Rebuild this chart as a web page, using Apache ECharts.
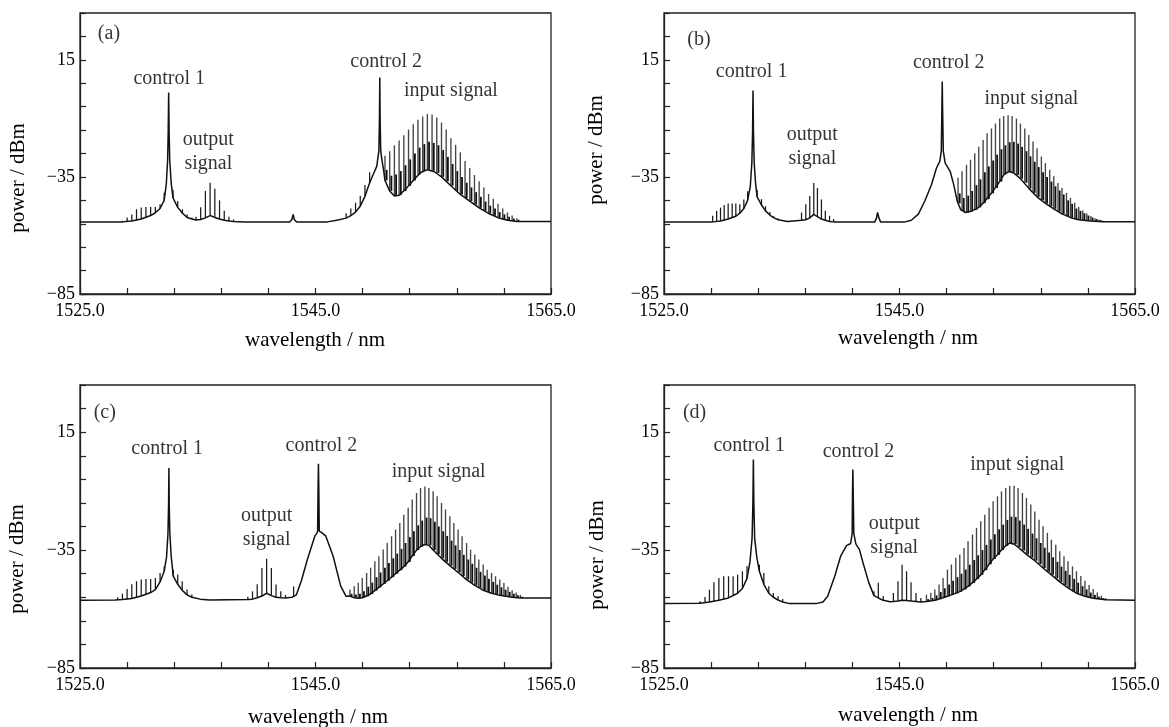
<!DOCTYPE html>
<html>
<head>
<meta charset="utf-8">
<script src="https://cdn.jsdelivr.net/npm/echarts@6/dist/echarts.min.js"></script>
<style>
html,body{margin:0;padding:0;background:#fff;}
#chart{width:1169px;height:727px;}
</style>
</head>
<body>
<div id="chart"></div>
<script>
// ---------- axis ticks / labels ----------
var xTicks = [1525, 1529, 1533, 1537, 1541, 1545, 1549, 1553, 1557, 1561, 1565];
var xLabels = [1525, 1545, 1565];
var yTicks = [-85, -75, -65, -55, -45, -35, -25, -15, -5, 5, 15, 25, 35];
var yLabels = [-85, -35, 15];

// ---------- panel (a) ----------
var floorA = [[1525,-54.2],[1527,-54.3],[1528.6,-54.2],[1529.4,-53.8],[1530.2,-53],[1531.0,-51.5],[1531.4,-50.3],[1531.8,-48.5],[1532.15,-45],[1532.33,-38],[1532.44,-28],[1532.49,-16.4],[1532.53,1],[1532.57,-16.4],[1532.62,-28],[1532.75,-38],[1532.9,-44],[1533.3,-48],[1533.7,-50.5],[1534.1,-52.3],[1534.5,-53],[1534.85,-53.4],[1535.25,-53.2],[1535.65,-52.5],[1536.05,-51.5],[1536.45,-52.3],[1536.85,-53],[1537.25,-53.5],[1537.65,-53.8],[1538.05,-54],[1539,-54.3],[1542.8,-54.3],[1543.0,-53.2],[1543.1,-51],[1543.2,-53.2],[1543.4,-54.3],[1546,-54.2],[1546.8,-53.5],[1547.6,-52.6],[1548.0,-51.5],[1548.4,-50],[1548.8,-47.5],[1549.2,-43.3],[1549.6,-37.5],[1549.9,-34],[1550.2,-30.5],[1550.38,-24],[1550.43,-10.8],[1550.46,7.5],[1550.49,-10.8],[1550.54,-24],[1550.65,-28],[1550.78,-32],[1550.9,-36.5],[1551.3,-41],[1551.7,-43.2],[1552.1,-42.8],[1552.7,-40],[1553.3,-36.5],[1553.9,-33.2],[1554.5,-31.9],[1555.1,-32.8],[1555.7,-35],[1556.5,-38.8],[1557.3,-42.5],[1558.1,-45.3],[1558.9,-48.2],[1559.7,-50.6],[1560.5,-52.4],[1561.3,-53.5],[1562.1,-54],[1565,-54]];
// single comb lines: [wavelength, floor, top]
var linesA = [[1528.6,-54.2,-53.7],[1529.0,-54.1,-52.3],[1529.4,-53.8,-51],[1529.8,-53.5,-48.8],[1530.2,-53,-48.1],[1530.6,-52.4,-47.8],[1531.0,-51.5,-47.8],[1531.4,-50.3,-47.8],[1531.8,-48.5,-46.7],[1532.15,-45,-41.8],
  [1532.9,-44,-40.5],[1533.3,-48,-45.3],[1533.7,-50.5,-48.8],[1534.1,-52.3,-51],[1534.5,-53,-52.3],
  [1534.85,-53.4,-52],[1535.25,-53.2,-48],[1535.65,-52.5,-41],[1536.05,-51.5,-37.5],[1536.45,-52.3,-40],[1536.85,-53,-45],[1537.25,-53.5,-49.5],[1537.65,-53.8,-52],[1538.05,-54,-53.2],
  [1547.6,-52.6,-50.5],[1548.0,-51.5,-48.5],[1548.4,-50,-46],[1548.8,-47.5,-43],[1549.2,-43.3,-38.5],[1549.6,-37.5,-33]];
// input-signal comb: [wavelength, floor, mid, top]
var inputA = [[1550.9,-36.5,-32.0,-26.0],[1551.3,-41.0,-34.5,-24.0],[1551.7,-43.2,-34.0,-21.5],[1552.1,-42.8,-32.5,-19.5],[1552.5,-41.0,-30.0,-17.2],[1552.9,-38.8,-27.5,-14.8],[1553.3,-36.5,-25.0,-12.5],[1553.7,-34.0,-22.5,-10.6],[1554.1,-32.5,-21.0,-9.2],[1554.5,-31.9,-20.0,-8.1],[1554.9,-32.4,-20.5,-8.3],[1555.3,-33.3,-21.5,-9.6],[1555.7,-35.0,-23.5,-11.8],[1556.1,-36.8,-26.5,-14.8],[1556.5,-38.8,-29.5,-18.5],[1556.9,-41.0,-32.5,-21.3],[1557.3,-42.5,-35.0,-24.5],[1557.7,-44.0,-37.5,-28.2],[1558.1,-45.3,-39.5,-31.2],[1558.5,-46.8,-41.5,-34.2],[1558.9,-48.2,-43.5,-36.8],[1559.3,-49.5,-45.5,-39.5],[1559.7,-50.6,-47.3,-42.3],[1560.1,-51.6,-48.5,-44.3],[1560.5,-52.4,-50.0,-46.5],[1560.9,-53.0,-51.0,-48.5],[1561.3,-53.5,-52.0,-50.2],[1561.7,-53.8,-52.8,-51.5],[1562.1,-54.0,-53.3,-52.6]];
var notesA = [['control 1',1532.58,7.1],['output\nsignal',1535.9,-24.1],['control 2',1551.0,14.2],['input signal',1556.5,1.8],['(a)',1527.46,26.3]];

// ---------- panel (b) ----------
var floorB = [[1525,-54.2],[1528,-54.3],[1529.13,-54.2],[1529.8,-53.8],[1530.45,-53],[1531.1,-51.8],[1531.44,-50.5],[1531.78,-48.5],[1532.1,-45],[1532.33,-39],[1532.46,-29],[1532.52,-16.4],[1532.56,1.9],[1532.6,-16.4],[1532.66,-29],[1532.78,-38],[1532.91,-43.5],[1533.28,-47],[1533.62,-49.5],[1533.99,-51.3],[1534.33,-52.5],[1534.7,-53.3],[1535.5,-54],[1536.68,-53.5],[1537.04,-53.3],[1537.38,-52.5],[1537.72,-51],[1538.03,-52],[1538.37,-53],[1538.7,-53.5],[1539.06,-54],[1539.4,-54.2],[1542.9,-54.3],[1543.05,-52.5],[1543.14,-50.2],[1543.25,-52.5],[1543.4,-54.3],[1545.4,-54.3],[1546.0,-53.5],[1546.6,-50.9],[1547.15,-45.3],[1547.72,-38.2],[1548.14,-31.2],[1548.42,-28.4],[1548.55,-24],[1548.6,-5.6],[1548.63,5.7],[1548.66,-5.6],[1548.72,-24],[1548.88,-29.1],[1549.3,-32.6],[1549.6,-38.2],[1549.9,-45.3],[1550.2,-49],[1550.6,-50.2],[1551.0,-49.8],[1551.6,-48.5],[1552.1,-46.2],[1552.8,-42],[1553.5,-37],[1553.9,-33.8],[1554.3,-32.7],[1554.7,-33.3],[1555.3,-35.9],[1556.0,-40],[1556.7,-43.6],[1557.4,-46.3],[1558.1,-48.6],[1558.8,-50.8],[1559.5,-52.3],[1560.2,-53.3],[1561.2,-53.8],[1562.3,-54.1],[1565,-54.1]];
var linesB = [[1529.13,-54.2,-51.6],[1529.47,-54,-49.5],[1529.8,-53.8,-48.1],[1530.11,-53.5,-47],[1530.45,-53,-46.4],[1530.79,-52.5,-46.4],[1531.1,-51.8,-46.4],[1531.44,-50.5,-46.7],[1531.78,-48.5,-44.6],[1532.1,-45,-41.1],
  [1532.91,-43.5,-40.5],[1533.28,-47,-44.5],[1533.62,-49.5,-47.5],[1533.99,-51.3,-50],[1534.33,-52.5,-51.8],[1534.7,-53.3,-52.8],
  [1536.68,-53.5,-50.2],[1537.04,-53.3,-46.7],[1537.38,-52.5,-43.2],[1537.72,-51,-37.6],[1538.03,-52,-39.7],[1538.37,-53,-44.6],[1538.7,-53.5,-49.5],[1539.06,-54,-51.6],[1539.4,-54.2,-53]];
var inputB = [[1549.97,-46.3,-42.0,-35.4],[1550.31,-49.6,-44.0,-32.6],[1550.69,-50.2,-43.0,-29.8],[1551.03,-49.8,-41.0,-27.7],[1551.39,-49.0,-38.5,-24.9],[1551.73,-48.0,-36.0,-22.1],[1552.10,-46.2,-33.0,-19.2],[1552.44,-44.5,-30.5,-16.4],[1552.81,-42.0,-28.0,-14.3],[1553.15,-39.7,-25.5,-12.2],[1553.51,-37.0,-23.2,-10.1],[1553.85,-34.0,-21.5,-9.0],[1554.22,-32.8,-20.2,-8.7],[1554.56,-33.0,-20.0,-9.0],[1554.93,-34.2,-20.8,-10.1],[1555.27,-35.8,-22.2,-12.2],[1555.64,-37.5,-24.0,-14.3],[1555.98,-40.0,-26.2,-17.1],[1556.34,-41.8,-28.5,-19.9],[1556.68,-43.5,-30.8,-22.8],[1557.05,-45.0,-33.0,-26.3],[1557.39,-46.3,-35.0,-29.1],[1557.76,-47.6,-37.0,-31.9],[1558.10,-48.6,-39.0,-34.7],[1558.46,-49.8,-40.8,-37.6],[1558.80,-50.8,-42.5,-39.7],[1559.18,-51.7,-45.0,-41.8],[1559.52,-52.3,-46.5,-43.9],[1559.88,-53.0,-48.5,-46.0],[1560.22,-53.3,-49.5,-47.8],[1560.56,-53.5,-50.5,-49.3],[1560.90,-53.7,-51.5,-50.6],[1561.25,-53.8,-52.3,-51.7],[1561.60,-53.9,-53.0,-52.6],[1561.95,-54.0,-53.5,-53.2],[1562.30,-54.1,-53.9,-53.7]];
var notesB = [['control 1',1532.44,9.9],['output\nsignal',1537.6,-22.3],['control 2',1549.18,13.8],['input signal',1556.2,-1.7],['(b)',1527.97,23.7]];

// ---------- panel (c) ----------
var floorC = [[1525,-56.3],[1528,-56.2],[1528.6,-56],[1529.4,-55.5],[1530.2,-54.5],[1531.0,-53],[1531.4,-51.8],[1531.8,-48.5],[1532.15,-44],[1532.35,-38],[1532.47,-28],[1532.52,-16.4],[1532.55,-0.2],[1532.58,-16.4],[1532.63,-28],[1532.75,-38],[1532.92,-46],[1533.3,-49.5],[1533.68,-52],[1534.09,-54],[1534.5,-55],[1535.2,-55.8],[1536,-56.2],[1539.25,-56],[1539.65,-55.8],[1540.05,-55.2],[1540.45,-54.5],[1540.85,-53.3],[1541.25,-54.3],[1541.65,-55],[1542.05,-55.2],[1542.45,-55.3],[1543.0,-55],[1543.37,-54],[1543.8,-48],[1544.31,-39],[1544.94,-29.1],[1545.1,-28],[1545.18,-27],[1545.22,-8],[1545.25,1.6],[1545.28,-8],[1545.32,-27],[1545.5,-27.5],[1545.88,-29.1],[1546.5,-37.6],[1547.14,-50.3],[1547.6,-54.6],[1547.92,-54.5],[1548.29,-55.2],[1548.63,-55.4],[1549.0,-55.2],[1549.68,-53.6],[1550.38,-50.8],[1551.09,-48],[1551.8,-45],[1552.5,-42],[1552.87,-40],[1553.21,-37.5],[1553.58,-35],[1553.92,-33.5],[1554.29,-32.6],[1554.63,-33],[1554.99,-35],[1555.7,-38.5],[1556.41,-41.6],[1557.11,-44.5],[1557.83,-47.5],[1558.53,-50],[1559.24,-52],[1559.95,-53.3],[1560.65,-54.2],[1561.7,-55],[1562.4,-55.3],[1565,-55.3]];
var linesC = [[1528.2,-56.2,-55],[1528.6,-56,-53.5],[1529.0,-55.8,-51.5],[1529.4,-55.5,-49.5],[1529.8,-55,-48.2],[1530.2,-54.5,-47.5],[1530.6,-53.8,-47.3],[1531.0,-53,-47.3],[1531.4,-51.8,-46.8],[1531.8,-48.5,-44.7],[1532.15,-44,-42],
  [1532.92,-46,-43.3],[1533.3,-49.5,-45.4],[1533.68,-52,-48.2],[1534.09,-54,-51.7],[1534.5,-55,-53.8],
  [1539.25,-56,-54.8],[1539.65,-55.8,-52.5],[1540.05,-55.2,-49.5],[1540.45,-54.5,-42.6],[1540.85,-53.3,-38.7],[1541.25,-54.3,-42.6],[1541.65,-55,-49.6],[1542.05,-55.2,-52.5],[1542.45,-55.3,-54],[1543.14,-54.6,-50.4]];
var inputC = [[1547.92,-54.5,-53.5,-51.7],[1548.29,-55.2,-53.8,-50.3],[1548.63,-55.4,-53.5,-48.9],[1548.97,-55.2,-52.5,-46.8],[1549.34,-54.6,-50.5,-44.7],[1549.68,-53.6,-48.8,-42.5],[1550.04,-52.2,-46.5,-39.7],[1550.38,-50.8,-44.5,-37.6],[1550.75,-49.3,-42.5,-34.8],[1551.09,-48.0,-40.5,-32.0],[1551.46,-46.5,-38.5,-29.1],[1551.80,-45.0,-36.5,-26.3],[1552.16,-43.5,-34.5,-23.5],[1552.50,-42.0,-32.0,-20.0],[1552.87,-40.0,-29.5,-17.1],[1553.21,-37.5,-27.0,-13.6],[1553.58,-35.0,-24.5,-10.8],[1553.92,-33.5,-22.5,-8.7],[1554.29,-32.6,-21.2,-8.0],[1554.63,-33.0,-21.5,-8.7],[1554.99,-35.0,-23.0,-10.1],[1555.33,-36.8,-25.0,-12.2],[1555.70,-38.5,-27.0,-15.0],[1556.04,-40.0,-29.0,-17.8],[1556.41,-41.6,-31.0,-20.7],[1556.75,-43.0,-33.0,-23.5],[1557.11,-44.5,-35.0,-26.3],[1557.45,-46.0,-37.0,-29.1],[1557.83,-47.5,-39.0,-32.0],[1558.17,-48.8,-40.8,-34.8],[1558.53,-50.0,-42.5,-36.9],[1558.87,-51.0,-44.2,-39.0],[1559.24,-52.0,-45.8,-41.1],[1559.58,-52.8,-47.2,-43.3],[1559.95,-53.3,-48.5,-44.7],[1560.29,-53.8,-49.7,-46.1],[1560.65,-54.2,-50.8,-47.5],[1561.00,-54.5,-51.8,-49.0],[1561.35,-54.8,-52.7,-50.5],[1561.70,-55.0,-53.5,-52.0],[1562.05,-55.2,-54.2,-53.0],[1562.40,-55.3,-54.8,-54.0]];
var notesC = [['control 1',1532.4,7.9],['output\nsignal',1540.85,-25.4],['control 2',1545.5,9.3],['input signal',1555.46,-1.6],['(c)',1527.1,23.1]];

// ---------- panel (d) ----------
var floorD = [[1525,-57.6],[1528.06,-57.5],[1528.86,-57],[1529.66,-56.3],[1530.48,-55.3],[1531.25,-53.3],[1531.66,-51.3],[1532.05,-47],[1532.3,-40],[1532.48,-30],[1532.55,-15],[1532.59,3.4],[1532.63,-15],[1532.7,-30],[1532.88,-38],[1533.1,-44],[1533.48,-49.5],[1533.9,-53.3],[1534.28,-55],[1534.69,-56.2],[1535.08,-57],[1535.6,-57.6],[1538.0,-57.6],[1538.5,-57],[1538.9,-54.6],[1539.5,-46.1],[1540.0,-37.6],[1540.5,-33.1],[1540.85,-32.2],[1540.98,-28],[1541.01,-10.7],[1541.04,-0.8],[1541.07,-10.7],[1541.12,-28],[1541.3,-32.5],[1541.6,-34.8],[1541.9,-40.4],[1542.4,-48.9],[1542.83,-54.3],[1543.2,-55.3],[1543.62,-56.3],[1544.2,-56.9],[1544.48,-56.8],[1544.87,-56.6],[1545.22,-56.3],[1545.6,-56.4],[1545.98,-56.6],[1546.4,-56.8],[1546.81,-57],[1547.29,-56.8],[1548.0,-56.3],[1548.7,-55.2],[1549.41,-54],[1550.12,-52.6],[1550.82,-50.4],[1551.54,-47.3],[1551.9,-45.5],[1552.61,-41],[1552.95,-38.8],[1553.32,-37],[1553.66,-35],[1554.02,-33.2],[1554.36,-32],[1554.73,-32.5],[1555.07,-33.8],[1555.78,-36.8],[1556.49,-39.5],[1557.19,-42.6],[1557.9,-45.5],[1558.61,-48.5],[1559.31,-51],[1560.03,-53.3],[1560.75,-54.6],[1561.45,-55.4],[1562.5,-56.1],[1565,-56.3]];
var linesD = [[1528.06,-57.5,-56.7],[1528.48,-57.3,-54.9],[1528.86,-57,-51.8],[1529.24,-56.8,-48.6],[1529.66,-56.3,-46.8],[1530.07,-55.8,-46.1],[1530.48,-55.3,-46.1],[1530.87,-54.5,-46.1],[1531.25,-53.3,-45.4],[1531.66,-51.3,-44],[1532.05,-47,-41.9],
  [1533.1,-44,-41.2],[1533.48,-49.5,-44.7],[1533.9,-53.3,-50.3],[1534.28,-55,-53.2],[1534.69,-56.2,-54.6],[1535.08,-57,-55.7],
  [1542.83,-54.3,-52.5],[1543.2,-55.3,-48.9],[1543.62,-56.3,-54.5],
  [1544.48,-56.8,-53.2],[1544.87,-56.6,-48.2],[1545.22,-56.3,-41.2],[1545.6,-56.4,-44],[1545.98,-56.6,-48.6],[1546.4,-56.8,-53.2],[1546.81,-57,-55.3]];
var inputD = [[1547.29,-56.8,-55.8,-53.9],[1547.66,-56.6,-55.3,-53.1],[1548.00,-56.3,-54.2,-51.7],[1548.36,-55.8,-52.8,-49.6],[1548.70,-55.2,-51.2,-46.8],[1549.07,-54.6,-49.6,-43.3],[1549.41,-54.0,-48.0,-41.1],[1549.78,-53.4,-46.5,-38.3],[1550.12,-52.6,-45.0,-36.9],[1550.48,-51.7,-43.2,-34.1],[1550.82,-50.4,-41.2,-31.3],[1551.20,-49.0,-39.2,-28.4],[1551.54,-47.3,-37.2,-25.6],[1551.90,-45.5,-35.0,-22.8],[1552.24,-43.5,-32.8,-20.0],[1552.61,-41.0,-30.5,-17.1],[1552.95,-38.8,-28.3,-14.3],[1553.32,-37.0,-26.2,-12.2],[1553.66,-35.0,-24.2,-10.1],[1554.02,-33.2,-22.2,-8.7],[1554.36,-32.0,-20.8,-7.7],[1554.73,-32.5,-21.0,-7.7],[1555.07,-33.8,-22.5,-8.7],[1555.44,-35.2,-24.2,-10.8],[1555.78,-36.8,-26.0,-12.9],[1556.15,-38.2,-28.0,-15.7],[1556.49,-39.5,-30.0,-18.6],[1556.85,-41.0,-32.0,-22.1],[1557.19,-42.6,-34.0,-24.9],[1557.56,-44.2,-36.0,-27.7],[1557.90,-45.5,-38.0,-30.6],[1558.27,-47.0,-40.0,-32.7],[1558.61,-48.5,-42.0,-35.5],[1558.97,-49.8,-43.8,-37.6],[1559.31,-51.0,-45.5,-39.7],[1559.69,-52.5,-47.2,-41.9],[1560.03,-53.3,-48.8,-44.0],[1560.40,-54.0,-50.3,-46.0],[1560.75,-54.6,-51.7,-48.0],[1561.10,-55.0,-53.0,-49.8],[1561.45,-55.4,-54.0,-51.5],[1561.80,-55.7,-54.8,-53.0],[1562.15,-55.9,-55.4,-54.3],[1562.50,-56.1,-55.8,-55.3]];
var notesD = [['control 1',1532.24,9.3],['control 2',1541.52,6.9],['output\nsignal',1544.55,-28.8],['input signal',1555.0,1.2],['(d)',1527.6,23.1]];

// ---------- layout (pixels) ----------
var FONT = "'Liberation Serif', 'Times New Roman', serif";
var grids = [
  {left: 80, top: 13, width: 471, height: 281},
  {left: 664, top: 13, width: 471, height: 281},
  {left: 80, top: 385, width: 471, height: 283},
  {left: 664, top: 385, width: 471, height: 283}
];
var yTitlePos = [[18, 178], [596, 150], [17, 559], [597, 555]];
var xTitlePos = [[315, 340], [908, 338], [318, 717], [908, 715]];

var floors = [floorA, floorB, floorC, floorD];
var singles = [linesA, linesB, linesC, linesD];
var inputs = [inputA, inputB, inputC, inputD];
var notes = [notesA, notesB, notesC, notesD];

function renderSingle(params, api) {
  var w = api.value(0), lo = api.value(1), hi = api.value(2);
  var a = api.coord([w, lo]), b = api.coord([w, hi]);
  return {type: 'line', shape: {x1: a[0], y1: a[1], x2: b[0], y2: b[1]},
    style: {stroke: '#1a1a1a', lineWidth: 1.25}};
}
function renderInput(params, api) {
  var w = api.value(0), lo = api.value(1), mid = api.value(2), hi = api.value(3);
  var a = api.coord([w, lo]), b = api.coord([w, hi]), m = api.coord([w, mid]);
  return {type: 'group', children: [
    {type: 'line', shape: {x1: a[0], y1: a[1], x2: b[0], y2: b[1]}, style: {stroke: '#444', lineWidth: 1.35}},
    {type: 'line', shape: {x1: a[0] + 1.7, y1: a[1], x2: m[0] + 1.7, y2: m[1]}, style: {stroke: '#0d0d0d', lineWidth: 1.8}}
  ]};
}

var option = {
  animation: false,
  backgroundColor: '#fff',
  grid: grids.map(function (g) {
    return {left: g.left, top: g.top, width: g.width, height: g.height, show: true,
      borderColor: '#222', borderWidth: 1.3, backgroundColor: 'transparent', containLabel: false};
  }),
  xAxis: grids.map(function (g, i) {
    return {
      gridIndex: i, type: 'value', min: 1525, max: 1565, position: 'bottom',
      axisLine: {show: true, onZero: false, lineStyle: {color: '#222', width: 1.3}},
      axisTick: {show: true, inside: true, length: 6, customValues: xTicks, lineStyle: {color: '#222', width: 1.2}},
      axisLabel: {show: true, customValues: xLabels, margin: 8, fontSize: 18, color: '#000', fontFamily: FONT,
        formatter: function (v) { return Number(v).toFixed(1); }},
      splitLine: {show: false}
    };
  }),
  yAxis: grids.map(function (g, i) {
    return {
      gridIndex: i, type: 'value', min: -85, max: 35, position: 'left',
      axisLine: {show: true, onZero: false, lineStyle: {color: '#222', width: 1.3}},
      axisTick: {show: true, inside: true, length: 6, customValues: yTicks, lineStyle: {color: '#222', width: 1.2}},
      axisLabel: {show: true, customValues: yLabels, margin: 5, fontSize: 18, color: '#000', fontFamily: FONT,
        formatter: function (v) { return v < 0 ? '\u2212' + Math.abs(v) : String(v); }},
      splitLine: {show: false}
    };
  }),
  graphic: [],
  series: []
};

for (var i = 0; i < 4; i++) {
  option.series.push({
    type: 'custom', xAxisIndex: i, yAxisIndex: i, renderItem: renderInput,
    dimensions: ['w', 'lo', 'mid', 'hi'], encode: {x: 0, y: [1, 2, 3]},
    data: inputs[i], z: 2, silent: true
  });
  option.series.push({
    type: 'custom', xAxisIndex: i, yAxisIndex: i, renderItem: renderSingle,
    dimensions: ['w', 'lo', 'hi'], encode: {x: 0, y: [1, 2]},
    data: singles[i], z: 2, silent: true
  });
  option.series.push({
    type: 'line', xAxisIndex: i, yAxisIndex: i, data: floors[i], showSymbol: false, symbol: 'none',
    lineStyle: {color: '#111', width: 1.5}, z: 3, silent: true
  });
  option.series.push({
    type: 'scatter', xAxisIndex: i, yAxisIndex: i, symbolSize: 0,
    itemStyle: {color: 'rgba(0,0,0,0)'},
    data: notes[i].map(function (n) { return {value: [n[1], n[2]], name: n[0]}; }),
    label: {show: true, position: 'inside', formatter: function (p) { return p.name; },
      fontFamily: FONT, fontSize: 20, color: '#000', lineHeight: 24, align: 'center', verticalAlign: 'middle'},
    z: 5, silent: true
  });
  option.graphic.push({
    type: 'text', x: yTitlePos[i][0], y: yTitlePos[i][1], rotation: Math.PI / 2,
    style: {text: 'power / dBm', font: '21px ' + FONT, fill: '#000', textAlign: 'center', textVerticalAlign: 'middle'}
  });
  option.graphic.push({
    type: 'text', x: xTitlePos[i][0], y: xTitlePos[i][1],
    style: {text: 'wavelength / nm', font: '21px ' + FONT, fill: '#000', textAlign: 'center', textVerticalAlign: 'middle'}
  });
}

var chart = echarts.init(document.getElementById('chart'), null, {renderer: 'canvas'});
chart.setOption(option);
</script>
</body>
</html>
